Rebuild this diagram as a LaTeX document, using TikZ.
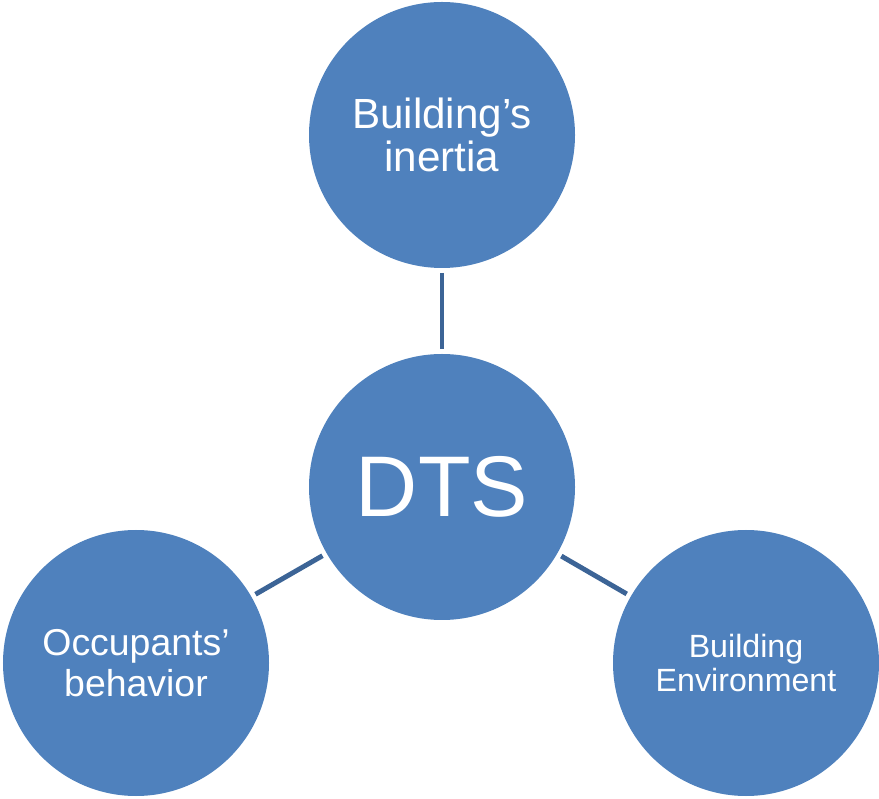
\documentclass[tikz,border=0pt]{standalone}
\usepackage{fontspec}
\setmainfont{Liberation Sans}
\usepackage{tikz}
\usetikzlibrary{arrows}
\usetikzlibrary{positioning}
\definecolor{dtsblue}{HTML}{4F81BD}
\definecolor{linkblue}{HTML}{3C6496}

\begin{document}
\begin{tikzpicture}[-,auto,
    main node/.style={circle,fill=dtsblue,text=white,inner sep=0pt,minimum size=5.32cm,align=center},
    link/.style={-,line width=2.8pt,color=linkblue,shorten >=0.09cm,shorten <=0.09cm}]
   \useasboundingbox (0,0) rectangle (17.58,15.96);
   \begin{scope}
      \node[main node,font=\fontsize{24}{24}\selectfont] (inertia) at (8.84,13.26) {Building's\\inertia};
      \node[main node,font=\fontsize{49}{52}\selectfont] (dts) at (8.84,6.22) {DTS};
      \node[main node,font=\fontsize{21.3}{23}\selectfont] (occ) at (2.72,2.70) {Occupants'\\behavior};
      \node[main node,font=\fontsize{18.3}{19}\selectfont] (env) at (14.92,2.70) {Building\\Environment};
      %\node[main node] (x) at (8.84,0) {};
       \path[link] (inertia) edge (dts);
       \path[link] (occ) edge (dts);
       \path[link] (dts) edge (env);
    \end{scope}
  \end{tikzpicture}
\end{document}
